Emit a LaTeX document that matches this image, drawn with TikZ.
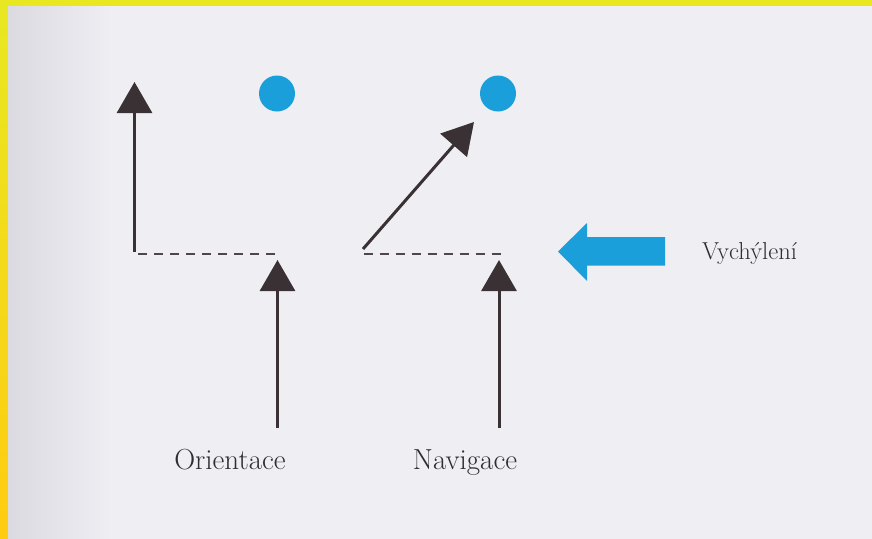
\documentclass[tikz,border=0pt]{standalone}
\usetikzlibrary{arrows.meta}
\definecolor{bgpage}{HTML}{EEEEF3}
\definecolor{bgdark}{HTML}{DADAE0}
\definecolor{ybord}{HTML}{E8E822}
\definecolor{ybordlow}{HTML}{FFCC11}
\definecolor{darkarr}{HTML}{3A3134}
\definecolor{dotblue}{HTML}{1B9FDA}
\definecolor{txtgray}{HTML}{2E2E30}
\pgfdeclarehorizontalshading{pageshade}{100bp}{color(0bp)=(bgdark); color(25bp)=(bgdark); color(31bp)=(bgpage); color(100bp)=(bgpage)}
\tikzset{
  vec/.style={draw=darkarr, line width=3pt, -{Triangle[length=31pt,width=35pt]}},
  baseline dash/.style={draw=darkarr!90, line width=2.7pt, dash pattern=on 9pt off 7pt},
  target/.style={circle, fill=dotblue, minimum size=36pt, inner sep=0pt},
  lbl/.style={text=txtgray, inner sep=0pt, font=\fontsize{29}{33}\selectfont},
  lblsmall/.style={text=txtgray, inner sep=0pt, font=\fontsize{24.5}{28}\selectfont}
}
\begin{document}
\begin{tikzpicture}[x=1pt,y=-1pt]
\useasboundingbox (0,0) rectangle (872,538);
% frame and page
\fill[ybord] (0,0) rectangle (872,538);
\shade[top color=ybord, bottom color=ybordlow] (0,0) rectangle (8,538);
\shade[shading=pageshade] (8,6) rectangle (872,538);

% coordinates
\coordinate (L0) at (134.5,252);
\coordinate (L1) at (134.5,82);
\coordinate (DL0) at (138,254);
\coordinate (DL1) at (282,254);
\coordinate (DR0) at (364,254);
\coordinate (DR1) at (506,254);
\coordinate (D0) at (363,249);
\coordinate (D1) at (474,122);
\coordinate (O0) at (277.5,428);
\coordinate (O1) at (277.5,260);
\coordinate (N0) at (499,428);
\coordinate (N1) at (499,260);

% targets
\node[target] (t1) at (277,93.5) {};
\node[target] (t2) at (498,93.5) {};

% dashed baselines
\draw[baseline dash] (DL0) -- (DL1);
\draw[baseline dash] (DR0) -- (DR1);

% vectors
\draw[vec] (L0) -- (L1);
\draw[vec] (D0) -- (D1);
\draw[vec] (O0) -- (O1);
\draw[vec] (N0) -- (N1);

% deflection arrow
\fill[dotblue] (558,251.5) -- (587,223) -- (587,237) -- (665,237) -- (665,265.5) -- (587,265.5) -- (587,281) -- cycle;

% labels
\node[lbl, anchor=base] (orient) at (230,469) {Orientace};
\node[lbl, anchor=base] (navig) at (465,469) {Navigace};
\node[lblsmall, anchor=base] (vych) at (749.5,259) {Vychýlení};
\end{tikzpicture}
\end{document}
